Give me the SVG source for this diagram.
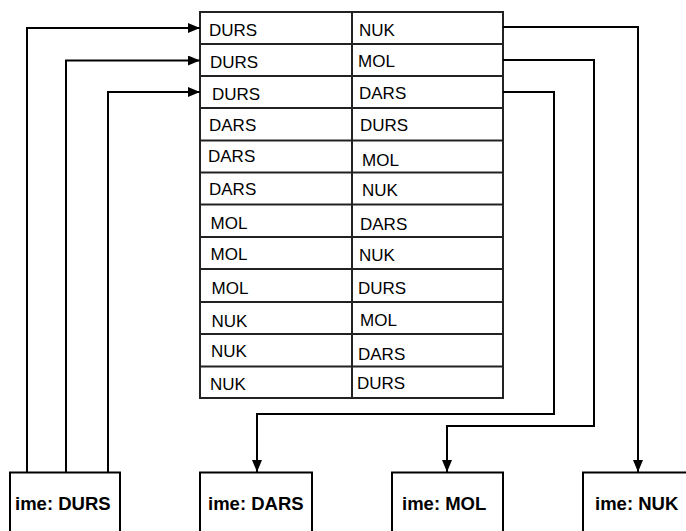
<svg xmlns="http://www.w3.org/2000/svg" width="686" height="531" viewBox="0 0 686 531">
<style>
.t{font-family:"Liberation Sans",Arial,sans-serif;font-size:17px;fill:#000}
.b{font-family:"Liberation Sans",Arial,sans-serif;font-size:18.5px;font-weight:bold;fill:#000}
.c{fill:none;stroke:#000;stroke-width:2}
.box{fill:#fff;stroke:#000;stroke-width:2}
.g{stroke:#222;stroke-width:2}
</style>
<defs>
<marker id="ah" markerWidth="12" markerHeight="10" refX="12" refY="5" orient="auto" markerUnits="userSpaceOnUse">
<path d="M0,0 L12,5 L0,10 Z" fill="#000"/>
</marker>
</defs>
<rect width="686" height="531" fill="#fff"/>
<g id="table">
<rect x="200" y="12" width="303" height="386" fill="#fff" stroke="#222" stroke-width="2"/>
<line class="g" x1="352" y1="12" x2="352" y2="398"/>
<line class="g" x1="200" y1="44" x2="503" y2="44"/>
<line class="g" x1="200" y1="76" x2="503" y2="76"/>
<line class="g" x1="200" y1="108" x2="503" y2="108"/>
<line class="g" x1="200" y1="140.5" x2="503" y2="140.5"/>
<line class="g" x1="200" y1="172.5" x2="503" y2="172.5"/>
<line class="g" x1="200" y1="204.5" x2="503" y2="204.5"/>
<line class="g" x1="200" y1="237" x2="503" y2="237"/>
<line class="g" x1="200" y1="269" x2="503" y2="269"/>
<line class="g" x1="200" y1="302" x2="503" y2="302"/>
<line class="g" x1="200" y1="334" x2="503" y2="334"/>
<line class="g" x1="200" y1="366.5" x2="503" y2="366.5"/>
<text class="t" x="209" y="36">DURS</text>
<text class="t" x="210" y="68">DURS</text>
<text class="t" x="212" y="99.5">DURS</text>
<text class="t" x="209" y="131">DARS</text>
<text class="t" x="208" y="162">DARS</text>
<text class="t" x="209" y="195">DARS</text>
<text class="t" x="210.5" y="229">MOL</text>
<text class="t" x="210.5" y="260">MOL</text>
<text class="t" x="211.5" y="294">MOL</text>
<text class="t" x="211.5" y="327">NUK</text>
<text class="t" x="211" y="357">NUK</text>
<text class="t" x="210" y="390">NUK</text>
<text class="t" x="359" y="36">NUK</text>
<text class="t" x="358" y="67">MOL</text>
<text class="t" x="359" y="99">DARS</text>
<text class="t" x="360" y="131">DURS</text>
<text class="t" x="362" y="165.5">MOL</text>
<text class="t" x="362" y="195.5">NUK</text>
<text class="t" x="360" y="230">DARS</text>
<text class="t" x="359" y="261">NUK</text>
<text class="t" x="358" y="294">DURS</text>
<text class="t" x="360" y="325.5">MOL</text>
<text class="t" x="358" y="360">DARS</text>
<text class="t" x="357" y="389">DURS</text>
</g>
<g id="connectors">
<path class="c" d="M27,472 V28 H200" marker-end="url(#ah)"/>
<path class="c" d="M66,472 V60.5 H200" marker-end="url(#ah)"/>
<path class="c" d="M108,472 V92 H200" marker-end="url(#ah)"/>
<path class="c" d="M503,27 H638 V472" marker-end="url(#ah)"/>
<path class="c" d="M503,60 H594 V426 H447 V472" marker-end="url(#ah)"/>
<path class="c" d="M503,92 H554 V414 H257 V472" marker-end="url(#ah)"/>
</g>
<g id="box-durs">
<rect class="box" x="10" y="472.5" width="110" height="70"/>
<text class="b" x="15" y="510">ime: DURS</text>
</g>
<g id="box-dars">
<rect class="box" x="200" y="472.5" width="112" height="70"/>
<text class="b" x="208" y="510">ime: DARS</text>
</g>
<g id="box-mol">
<rect class="box" x="392" y="472.5" width="111" height="70"/>
<text class="b" x="402" y="510">ime: MOL</text>
</g>
<g id="box-nuk">
<rect class="box" x="583" y="472.5" width="115" height="70"/>
<text class="b" x="595" y="510">ime: NUK</text>
</g>
</svg>
